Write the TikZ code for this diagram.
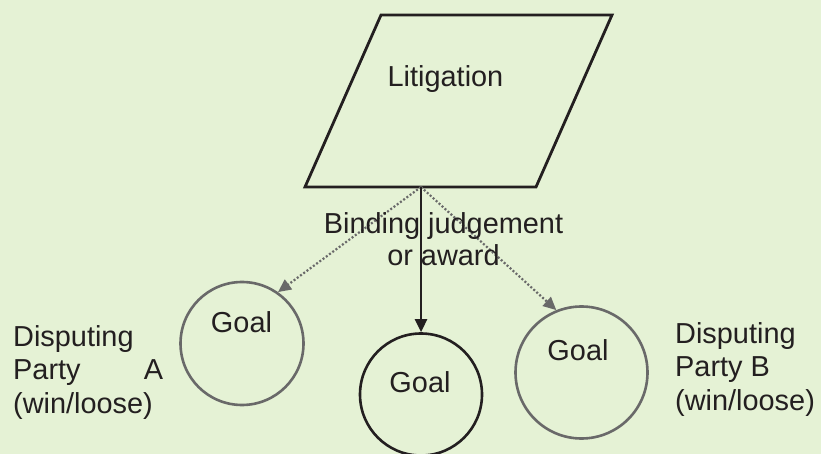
\documentclass[tikz,border=0pt]{standalone}
\usepackage{fontspec}
\setmainfont{Liberation Sans}
\usetikzlibrary{arrows.meta}
\definecolor{bgcol}{RGB}{229,242,213}
\definecolor{ink}{RGB}{35,31,32}
\definecolor{greyline}{RGB}{105,105,105}
\tikzset{
  txt/.style={inner sep=0pt, text=ink, font=\fontsize{29}{33.5}\selectfont},
  goalring/.style={circle, draw=#1, line width=2.6bp, inner sep=0pt},
  solidlink/.style={draw=ink, line width=2.6bp, -{Triangle[length=13bp,width=12bp]}},
  dotlink/.style={draw=greyline, line width=2.2bp, dash pattern=on 2bp off 2bp,
    -{Triangle[length=13bp,width=12bp]}},
}
\begin{document}
\begin{tikzpicture}[x=1bp, y=-1bp]
  % canvas
  \fill[bgcol] (0,0) rectangle (821,454);
  \useasboundingbox (0,0) rectangle (821,454);

  % litigation parallelogram
  \coordinate (p1) at (381,15);
  \coordinate (p2) at (612,15);
  \coordinate (p3) at (536,187);
  \coordinate (p4) at (305,187);
  \draw[ink, line width=2.8bp, line join=miter] (p1) -- (p2) -- (p3) -- (p4) -- cycle;
  \node[txt, anchor=base] (lit) at (445.5,87) {Litigation};
  \coordinate (src) at (421,187);

  % goal circles
  \node[goalring=greyline, minimum size=123bp] (gA) at (242,343.5) {};
  \node[goalring=ink, minimum size=122bp] (gM) at (421,394.5) {};
  \node[goalring=greyline, minimum size=132bp] (gB) at (581.5,372.5) {};
  \node[txt, anchor=base] (tA) at (241.5,333) {Goal};
  \node[txt, anchor=base] (tM) at (420,392) {Goal};
  \node[txt, anchor=base] (tB) at (578,361) {Goal};

  % connectors
  \draw[dotlink] (src) -- (gA.55);
  \draw[dotlink] (src) -- (gB.112);
  \draw[solidlink] (src) -- (gM.north);

  % labels
  \node[txt, anchor=north, align=center, font=\fontsize{29}{32}\selectfont]
    (bind) at (443.5,212.3) {Binding judgement\\or award};
  \node[txt, anchor=north west, text width=150bp, align=left]
    (partyA) at (13,325.3) {Disputing\\Party\hfill A\\(win/loose)};
  \node[txt, anchor=north west, align=left]
    (partyB) at (675,322.3) {Disputing\\Party B\\(win/loose)};
\end{tikzpicture}
\end{document}
